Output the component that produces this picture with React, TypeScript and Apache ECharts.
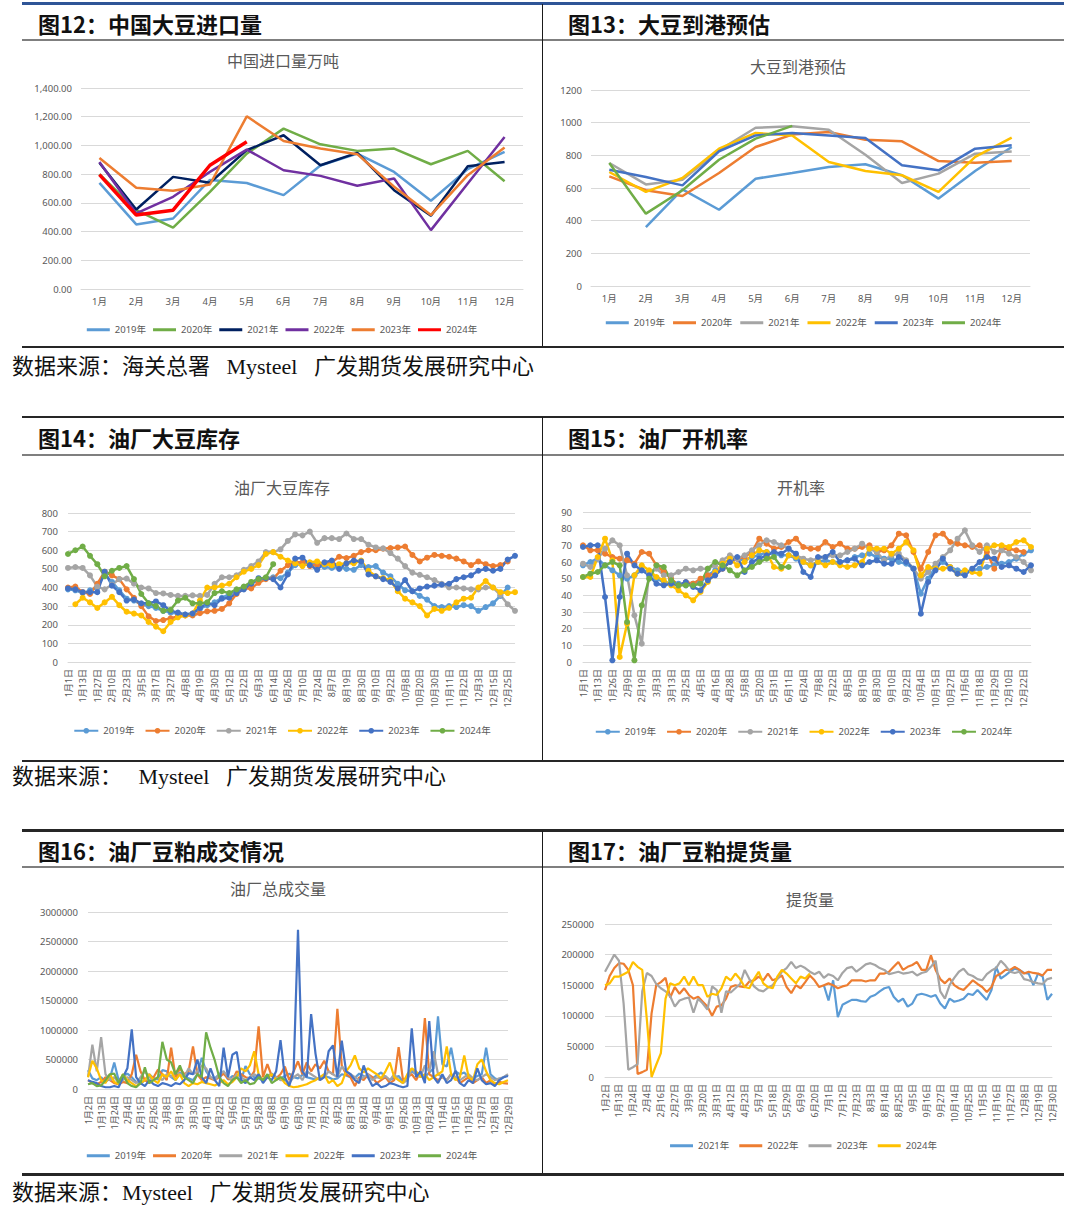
import React, { useEffect, useRef } from 'react';
import * as echarts from 'echarts';

// ---------------- 图12：中国大豆进口量 ----------------
const MONTHS = ['1月', '2月', '3月', '4月', '5月', '6月', '7月', '8月', '9月', '10月', '11月', '12月'];
const IMPORT_2019 = [739, 450, 491, 760, 738, 654, 860, 943, 815, 615, 835, 955];
const IMPORT_2020 = [800, 549, 427, 677, 943, 1117, 1008, 962, 978, 869, 962, 751];
const IMPORT_2021 = [880, 554, 781, 740, 967, 1071, 862, 948, 688, 510, 855, 885];
const IMPORT_2022 = [885, 526, 642, 816, 971, 827, 788, 719, 770, 410, 735, 1059];
const IMPORT_2023 = [913, 705, 684, 728, 1203, 1031, 978, 939, 712, 515, 793, 985];
const IMPORT_2024 = [797, 515, 549, 862, 1025];

// ---------------- 图13：大豆到港预估 ----------------
const ARRIVAL_2019 = [null, 361, 592, 467, 657, 692, 729, 745, 678, 535, 704, 851];
const ARRIVAL_2020 = [671, 586, 551, 692, 851, 927, 943, 896, 886, 765, 755, 765];
const ARRIVAL_2021 = [753, 622, 651, 831, 969, 978, 957, 804, 631, 688, 810, 824];
const ARRIVAL_2022 = [698, 576, 661, 841, 937, 922, 759, 704, 678, 576, 790, 908];
const ARRIVAL_2023 = [712, 667, 616, 825, 922, 937, 922, 906, 739, 708, 841, 861];
const ARRIVAL_2024 = [753, 443, 586, 773, 902, 980];

// ---------------- 图14：油厂大豆库存 ----------------
const STOCK_DATES = '1月1日,1月7日,1月13日,1月20日,1月27日,2月3日,2月10日,2月17日,2月23日,2月28日,3月5日,3月11日,3月17日,3月22日,3月27日,4月2日,4月8日,4月14日,4月19日,4月24日,4月30日,5月6日,5月12日,5月17日,5月22日,5月28日,6月3日,6月9日,6月14日,6月20日,6月26日,7月3日,7月10日,7月17日,7月24日,7月31日,8月7日,8月13日,8月19日,8月25日,8月30日,9月4日,9月10日,9月16日,9月22日,9月29日,10月8日,10月14日,10月20日,10月25日,10月30日,11月5日,11月11日,11月16日,11月22日,11月27日,12月3日,12月9日,12月15日,12月20日,12月25日,12月31日'.split(',');
const STOCK_2019 = [390, 385, 370, 385, 400, 470, 430, 385, 340, 330, 310, 300, 290, 275, 265, 260, 255, 260, 285, 305, 320, 345, 365, 380, 400, 420, 440, 450, 455, 450, 480, 520, 530, 530, 520, 510, 505, 510, 500, 495, 520, 510, 515, 480, 460, 420, 385, 380, 355, 335, 300, 295, 300, 295, 305, 300, 275, 295, 315, 355, 400, null];
const STOCK_2020 = [400, 405, 375, 365, 420, 485, 465, 445, 390, 345, 300, 245, 220, 225, 235, 245, 250, 250, 262, 272, 275, 285, 315, 365, 395, 395, 425, 445, 448, 490, 520, 535, 535, 515, 522, 528, 535, 565, 558, 570, 590, 600, 600, 608, 612, 615, 620, 575, 540, 560, 575, 570, 565, 555, 540, 520, 540, 525, 515, 520, 540, null];
const STOCK_2021 = [505, 510, 505, 465, 405, 390, 415, 445, 448, 420, 400, 395, 370, 368, 360, 355, 355, 358, 355, 360, 420, 455, 455, 465, 495, 515, 540, 590, 590, 605, 650, 685, 680, 700, 640, 665, 665, 660, 690, 660, 660, 630, 615, 610, 585, 555, 515, 480, 468, 455, 440, 420, 400, 400, 395, 390, 390, 400, 400, 360, 310, 275];
const STOCK_2022 = [null, 310, 345, 320, 290, 320, 350, 305, 270, 260, 250, 215, 190, 165, 215, 240, 250, 260, 330, 400, 400, 410, 420, 455, 485, 500, 520, 580, 590, 565, 545, 530, 515, 535, 540, 525, 520, 525, 530, 530, 545, 490, 460, 450, 440, 380, 340, 320, 300, 250, 285, 275, 290, 320, 340, 345, 400, 435, 400, 375, 370, 375];
const STOCK_2023 = [395, 390, 375, 375, 375, 485, 410, 375, 330, 335, 315, 315, 325, 305, 275, 265, 255, 260, 290, 315, 305, 340, 345, 370, 390, 420, 450, 450, 445, 400, 470, 555, 560, 520, 495, 535, 545, 500, 530, 545, 540, 470, 460, 445, 430, 395, 440, 380, 395, 405, 410, 415, 420, 445, 455, 465, 490, 500, 490, 500, 550, 570];
const STOCK_2024 = [580, 600, 620, 570, 525, 460, 490, 505, 515, 445, 365, 315, 300, 275, 280, 330, 345, 315, 315, 320, 370, 380, 370, 390, 405, 430, 445, 455, 525];

// ---------------- 图15：油厂开机率 ----------------
const RATE_DATES = '1月1日,1月7日,1月13日,1月20日,1月26日,2月2日,2月9日,2月14日,2月19日,2月26日,3月3日,3月8日,3月13日,3月19日,3月25日,3月30日,4月5日,4月10日,4月16日,4月22日,4月28日,5月3日,5月8日,5月14日,5月20日,5月26日,5月31日,6月5日,6月11日,6月17日,6月24日,7月1日,7月8日,7月15日,7月22日,7月29日,8月5日,8月12日,8月19日,8月25日,8月30日,9月4日,9月10日,9月16日,9月22日,9月28日,10月4日,10月9日,10月15日,10月21日,10月27日,11月1日,11月6日,11月12日,11月18日,11月23日,11月29日,12月4日,12月10日,12月16日,12月22日,12月28日'.split(',');
const RATE_2019 = [58, 60, 62, 58, 55, 52, 50, 52, 55, 54, 50, 48, 47, 47, 46, 47, 48, 52, 55, 57, 60, 62, 61, 63, 64, 66, 65, 64, 64, 62, 60, 58, 60, 61, 60, 60, 61, 63, 64, 65, 63, 62, 62, 60, 59, 56, 41, 50, 57, 60, 57, 55, 54, 55, 56, 57, 58, 59, 60, 62, 65, 67];
const RATE_2020 = [70, 67, 67, 65, 63, 62, 61, 59, 66, 65, 58, 54, 50, 46, 48, 47, 50, 52, 53, 56, 60, 62, 63, 66, 74, 71, 68, 69, 72, 74, 69, 68, 68, 72, 69, 71, 68, 68, 69, 70, 66, 67, 70, 77, 76, 66, 56, 66, 76, 77, 72, 71, 70, 69, 70, 66, 56, 68, 68, 67, 66, null];
const RATE_2021 = [59, 57, 62, 68, 73, 70, 52, 28, 11, 54, 56, 52, 52, 54, 56, 55, 56, 56, 58, 61, 64, 62, 64, 67, 70, 73, 72, 70, 68, 64, 62, 61, 62, 63, 64, 64, 66, 68, 71, 68, 66, 61, 64, 65, 61, 56, 50, 54, 59, 63, 67, 74, 79, 70, 66, 70, 66, 67, 65, 63, 60, 55];
const RATE_2022 = [51, 51, 63, 74, 61, 3, 23, 52, 58, 55, 51, 49, 46, 43, 40, 37, 42, 48, 54, 59, 62, 58, 60, 64, 67, 66, 57, 56, 64, 63, 60, 58, 60, 58, 60, 58, 57, 58, 60, 68, 68, 68, 65, 68, 72, 67, 52, 57, 56, 56, 57, 53, 55, 54, 53, 68, 70, 70, 69, 72, 73, 69];
const RATE_2023 = [69, 70, 70, 39, 1, 39, 65, 58, 55, 52, 47, 46, 47, 46, 48, 45, 43, 49, 52, 56, 60, 63, 54, 60, 62, 64, 66, 65, 68, 65, 54, 51, 63, 63, 66, 60, 61, 62, 58, 60, 61, 59, 59, 63, 60, 56, 29, 48, 55, 62, 56, 53, 52, 56, 60, 63, 62, 57, 58, 56, 54, 58];
const RATE_2024 = [51, 53, 54, 58, 60, 58, 24, 1, 34, 50, 58, 57, 49, 46, 46, 46, 47, 56, 60, 58, 55, 52, 55, 57, 60, 62, 63, 57, 57];

// ---------------- 图16：油厂豆粕成交情况 ----------------
const DEAL_DATES = '1月2日,1月5日,1月9日,1月13日,1月16日,1月20日,1月24日,1月28日,2月1日,2月4日,2月8日,2月11日,2月15日,2月19日,2月22日,2月26日,3月1日,3月5日,3月8日,3月12日,3月15日,3月19日,3月23日,3月26日,3月30日,4月3日,4月7日,4月11日,4月15日,4月18日,4月22日,4月26日,4月30日,5月6日,5月10日,5月13日,5月17日,5月21日,5月24日,5月28日,6月1日,6月4日,6月8日,6月12日,6月15日,6月19日,6月23日,6月26日,6月30日,7月4日,7月7日,7月11日,7月15日,7月18日,7月22日,7月26日,7月29日,8月2日,8月6日,8月9日,8月13日,8月17日,8月20日,8月24日,8月28日,8月31日,9月4日,9月8日,9月11日,9月15日,9月19日,9月22日,9月26日,9月29日,10月9日,10月13日,10月17日,10月20日,10月24日,10月28日,10月31日,11月4日,11月8日,11月11日,11月15日,11月19日,11月22日,11月26日,11月30日,12月3日,12月7日,12月11日,12月14日,12月18日,12月22日,12月25日,12月29日'.split(',');
const DEAL_2019 = [
  320000, 180000, 150000, 200000, 120000, 180000, 450000, 150000, 220000,
  260000, 200000, 120000, 90000, 150000, 250000, 180000, 160000, 320000,
  300000, 200000, 150000, 280000, 220000, 180000, 150000, 250000, 530000,
  300000, 200000, 180000, 250000, 300000, 160000, 220000, 200000, 150000,
  390000, 250000, 200000, 180000, 150000, 220000, 260000, 200000, 180000,
  220000, 260000, 200000, 180000, 240000, 200000, 180000, 160000, 190000,
  220000, 200000, 160000, 180000, 250000, 230000, 200000, 190000, 260000,
  220000, 200000, 180000, 230000, 280000, 200000, 150000, 190000, 220000,
  120000, 200000, 300000, 250000, 220000, 200000, 280000, 350000, 1230000,
  420000, 380000, 700000, 300000, 250000, 280000, 200000, 180000, 220000,
  250000, 700000, 250000, 180000, 150000, 200000, 240000];
const DEAL_2020 = [
  150000, 100000, 80000, 120000, 200000, 150000, 100000, 80000, 120000,
  100000, 250000, 580000, 300000, 150000, 100000, 200000, 330000, 250000,
  150000, 700000, 200000, 350000, 250000, 300000, 720000, 250000, 150000,
  200000, 180000, 150000, 200000, 260000, 180000, 150000, 300000, 250000,
  200000, 180000, 300000, 1060000, 200000, 420000, 220000, 180000, 250000,
  380000, 150000, 300000, 470000, 250000, 450000, 300000, 420000, 350000,
  480000, 300000, 250000, 1360000, 400000, 250000, 200000, 50000, 200000,
  150000, 250000, 200000, 100000, 150000, 200000, 100000, 150000, 710000,
  150000, 200000, 250000, 150000, 300000, 1200000, 250000, 200000, 150000,
  200000, 150000, 250000, 200000, 100000, 150000, 200000, 100000, 150000,
  200000, 100000, 150000, 80000, 120000, 100000, 90000];
const DEAL_2021 = [
  200000, 750000, 300000, 880000, 250000, 150000, 200000, 100000, 150000,
  200000, 150000, 100000, 200000, 300000, 200000, 150000, 200000, 150000,
  250000, 200000, 300000, 250000, 200000, 350000, 250000, 300000, 400000,
  350000, 200000, 150000, 250000, 300000, 200000, 150000, 250000, 200000,
  150000, 200000, 250000, 200000, 150000, 200000, 250000, 200000, 150000,
  150000, 100000, 200000, 250000, 150000, 300000, 250000, 200000, 150000,
  200000, 300000, 250000, 200000, 380000, 300000, 250000, 200000, 150000,
  200000, 250000, 150000, 200000, 180000, 220000, 150000, 250000, 150000,
  100000, 150000, 350000, 250000, 200000, 400000, 300000, 640000, 250000,
  200000, 150000, 250000, 200000, 150000, 200000, 250000, 180000, 150000,
  200000, 250000, 200000, 150000, 180000, 200000, 250000];
const DEAL_2022 = [
  200000, 480000, 350000, 150000, 100000, 250000, 120000, 80000, 250000,
  150000, 100000, 50000, 100000, 150000, 250000, 150000, 100000, 250000,
  200000, 300000, 150000, 250000, 100000, 50000, 100000, 80000, 120000,
  100000, 80000, 60000, 100000, 150000, 80000, 120000, 200000, 350000,
  300000, 400000, 640000, 250000, 150000, 200000, 250000, 150000, 200000,
  100000, 50000, 30000, 40000, 60000, 80000, 120000, 150000, 200000,
  250000, 100000, 150000, 50000, 100000, 300000, 400000, 570000, 350000,
  280000, 350000, 300000, 250000, 180000, 300000, 450000, 200000, 150000,
  100000, 250000, 350000, 300000, 200000, 250000, 150000, 200000, 250000,
  300000, 720000, 250000, 150000, 200000, 570000, 200000, 150000, 420000,
  500000, 300000, 150000, 100000, 80000, 120000, 150000];
const DEAL_2023 = [
  150000, 120000, 100000, 50000, 30000, 30000, 50000, 30000, 200000,
  350000, 1010000, 200000, 100000, 50000, 150000, 80000, 50000, 100000,
  80000, 50000, 100000, 80000, 150000, 270000, 250000, 500000, 200000,
  100000, 350000, 150000, 50000, 700000, 200000, 580000, 630000, 150000,
  100000, 200000, 150000, 250000, 100000, 200000, 150000, 300000, 830000,
  200000, 50000, 300000, 2700000, 300000, 200000, 1270000, 600000, 150000,
  200000, 640000, 740000, 200000, 820000, 300000, 250000, 150000, 100000,
  400000, 200000, 50000, 100000, 30000, 50000, 100000, 80000, 50000,
  30000, 50000, 1030000, 200000, 300000, 100000, 1150000, 200000, 100000,
  250000, 100000, 150000, 310000, 100000, 50000, 150000, 100000, 350000,
  150000, 80000, 100000, 50000, 150000, 200000, 220000];
const DEAL_2024 = [
  80000, 100000, 50000, 60000, 150000, 250000, 260000, 100000, 250000,
  100000, 50000, 30000, 100000, 370000, 100000, 150000, 200000, 800000,
  500000, 450000, 250000, 400000, 200000, 150000, 100000, 250000, 200000,
  960000, 700000, 480000, 200000, 100000, 50000, 150000, 200000, 100000,
  150000, 80000, 100000, 200000, 150000, 250000, 100000, 150000, 200000,
  150000];

// ---------------- 图17：油厂豆粕提货量 ----------------
const LIFT_DATES = '1月2日,1月6日,1月9日,1月13日,1月17日,1月20日,1月24日,1月28日,1月31日,2月4日,2月8日,2月12日,2月16日,2月20日,2月23日,2月27日,3月2日,3月6日,3月9日,3月13日,3月16日,3月20日,3月24日,3月27日,3月31日,4月4日,4月8日,4月12日,4月16日,4月19日,4月23日,4月27日,5月1日,5月7日,5月11日,5月14日,5月18日,5月22日,5月25日,5月29日,6月2日,6月5日,6月9日,6月13日,6月16日,6月20日,6月24日,6月27日,7月1日,7月5日,7月8日,7月12日,7月16日,7月19日,7月23日,7月27日,7月30日,8月3日,8月7日,8月10日,8月14日,8月18日,8月21日,8月25日,8月29日,9月1日,9月5日,9月9日,9月12日,9月16日,9月20日,9月23日,9月27日,10月1日,10月10日,10月14日,10月18日,10月21日,10月25日,10月29日,11月1日,11月5日,11月9日,11月12日,11月16日,11月20日,11月23日,11月27日,12月1日,12月4日,12月8日,12月12日,12月15日,12月19日,12月23日,12月26日,12月30日'.split(',');
const LIFT_2021 = [
  null, null, null, null, null, null, null, null, null, null,
  null, null, null, null, null, null, null, null, null, null,
  null, null, null, null, null, null, null, null, null, null,
  null, null, null, null, null, null, null, null, null, null,
  null, null, null, null, null, null, null,
  150000, 125000, 158000, 98000, 118000, 122000, 126000, 126000, 124000, 123000,
  131000, 134000, 140000, 145000, 147000, 131000, 123000, 128000, 115000, 120000,
  134000, 136000, 134000, 131000, 134000, 120000, 112000, 128000, 123000, 125000,
  128000, 136000, 134000, 142000, 134000, 126000, 142000, 180000, 161000, 166000,
  172000, 177000, 175000, 170000, 169000, 150000, 169000, 164000, 126000, 136000];
const LIFT_2022 = [
  142000, 165000, 178000, 186000, 185000, 175000, 150000, 5000, 8000, 12000,
  104000, 150000, 155000, 162000, 130000, 147000, 136000, 145000, 134000, 128000,
  131000, 123000, 115000, 100000, 115000, 117000, 128000, 147000, 150000, 148000,
  147000, 156000, 158000, 164000, 158000, 169000, 158000, 161000, 166000, 147000,
  137000, 150000, 145000, 155000, 166000, 158000, 147000, 150000, 153000, 150000,
  145000, 148000, 150000, 158000, 158000, 158000, 156000, 158000, 158000, 169000,
  169000, 172000, 180000, 188000, 175000, 180000, 183000, 188000, 175000, 175000,
  199000, 175000, 160000, 153000, 161000, 150000, 145000, 142000, 150000, 158000,
  152000, 147000, 139000, 147000, 165000, 169000, 175000, 175000, 180000, 175000,
  169000, 172000, 170000, 169000, 166000, 175000, 175000];
const LIFT_2023 = [
  172000, 186000, 200000, 190000, 120000, 12000, 16000, 21000, 140000, 170000,
  165000, 152000, 145000, 140000, 132000, 115000, 125000, 128000, 130000, 105000,
  128000, 120000, 110000, 148000, 142000, 105000, 140000, 138000, 145000, 152000,
  175000, 160000, 148000, 142000, 140000, 146000, 150000, 160000, 172000, 178000,
  188000, 178000, 182000, 178000, 172000, 168000, 172000, 162000, 168000, 165000,
  158000, 170000, 178000, 180000, 172000, 178000, 184000, 186000, 183000, 178000,
  175000, 168000, 170000, 172000, 169000, 170000, 172000, 166000, 170000, 172000,
  180000, 190000, 140000, 128000, 150000, 162000, 172000, 177000, 168000, 165000,
  160000, 158000, 168000, 174000, 178000, 190000, 182000, 172000, 170000, 172000,
  160000, 158000, 155000, 153000, 152000, 160000, 162000];
const LIFT_2024 = [
  150000, 153000, 164000, 164000, 168000, 172000, 188000, 180000, 175000, 93000,
  0, 20000, 39000, 128000, 153000, 150000, 153000, 164000, 150000, 164000,
  150000, 150000, 131000, 136000, 134000, 145000, 164000, 158000, 169000, 160000,
  147000, 145000, 160000, 172000, 153000, 147000, 145000, 164000, 175000, 169000,
  161000, 153000, 164000, 161000, 169000];

const Y19 = '2019年', Y20 = '2020年', Y21 = '2021年', Y22 = '2022年', Y23 = '2023年', Y24 = '2024年';

const GRAY_TEXT = '#595959';
const AXIS_FONT = "'Noto Sans','Noto Sans CJK SC',sans-serif";
const CJK_FONT = "'Noto Sans CJK SC',sans-serif";

type S = { name: string; data: (number | null)[]; color: string; width: number };

function buildOption(p: any) {
  const markers = !!p.markers;
  return {
    animation: false,
    title: {
      text: p.title, left: p.titleX, top: p.titleTop, textAlign: 'center', padding: 0,
      textStyle: { fontSize: 16, fontWeight: 'normal', color: GRAY_TEXT, fontFamily: CJK_FONT },
    },
    grid: { left: p.grid[0], top: p.grid[1], width: p.grid[2], height: p.grid[3], containLabel: false },
    legend: {
      left: 'center', top: p.legendTop, itemGap: p.legendGap,
      itemWidth: markers ? 24 : 23, itemHeight: markers ? 7 : 3,
      icon: markers ? undefined : 'rect',
      textStyle: { fontSize: 9.5, color: GRAY_TEXT, fontFamily: AXIS_FONT },
      data: p.series.map((s: S) => s.name),
    },
    xAxis: {
      type: 'category', data: p.categories, boundaryGap: p.boundaryGap,
      axisLine: { show: true, lineStyle: { color: '#D9D9D9', width: 1 } },
      axisTick: { show: false },
      axisLabel: {
        interval: p.labelInterval, rotate: p.rotate, margin: p.xMargin,
        fontSize: p.rotate ? 9 : 9.5, color: GRAY_TEXT, fontFamily: AXIS_FONT,
      },
    },
    yAxis: {
      type: 'value', min: p.y[0], max: p.y[1], interval: p.y[2],
      axisLine: { show: false }, axisTick: { show: false },
      splitLine: { lineStyle: { color: '#D9D9D9', width: 1 } },
      axisLabel: { margin: p.yMargin, fontSize: 9.5, color: GRAY_TEXT, fontFamily: AXIS_FONT, formatter: p.yFormatter },
    },
    series: p.series.map((s: S) => ({
      type: 'line', name: s.name, data: s.data,
      symbol: markers ? 'circle' : 'none', symbolSize: 6, showSymbol: markers, showAllSymbol: true,
      lineStyle: { color: s.color, width: s.width },
      itemStyle: { color: s.color },
      emphasis: { disabled: true },
    })),
  };
}

const plain = (v: number) => String(v);

const OPT_IMPORT = buildOption({
  title: '中国进口量万吨', titleX: 261, titleTop: 12,
  grid: [59, 48, 442, 201], categories: MONTHS, boundaryGap: true, rotate: 0, labelInterval: 0, xMargin: 8,
  y: [0, 1400, 200], yMargin: 9,
  yFormatter: (v: number) => v.toLocaleString('en-US', { minimumFractionDigits: 2, maximumFractionDigits: 2 }),
  legendTop: 280, legendGap: 7,
  series: [
    { name: Y19, data: IMPORT_2019, color: '#5B9BD5', width: 2.5 },
    { name: Y20, data: IMPORT_2020, color: '#70AD47', width: 2.5 },
    { name: Y21, data: IMPORT_2021, color: '#002060', width: 2.5 },
    { name: Y22, data: IMPORT_2022, color: '#7030A0', width: 2.5 },
    { name: Y23, data: IMPORT_2023, color: '#ED7D31', width: 2.5 },
    { name: Y24, data: IMPORT_2024, color: '#FF0000', width: 3.5 },
  ],
});

const OPT_ARRIVAL = buildOption({
  title: '大豆到港预估', titleX: 255, titleTop: 18,
  grid: [48, 50, 439, 196], categories: MONTHS, boundaryGap: true, rotate: 0, labelInterval: 0, xMargin: 8,
  y: [0, 1200, 200], yMargin: 9, yFormatter: plain,
  legendTop: 273, legendGap: 8,
  series: [
    { name: Y19, data: ARRIVAL_2019, color: '#5B9BD5', width: 2.5 },
    { name: Y20, data: ARRIVAL_2020, color: '#ED7D31', width: 2.5 },
    { name: Y21, data: ARRIVAL_2021, color: '#A5A5A5', width: 2.5 },
    { name: Y22, data: ARRIVAL_2022, color: '#FFC000', width: 2.5 },
    { name: Y23, data: ARRIVAL_2023, color: '#4472C4', width: 2.5 },
    { name: Y24, data: ARRIVAL_2024, color: '#70AD47', width: 2.5 },
  ],
});

const OPT_STOCK = buildOption({
  title: '油厂大豆库存', titleX: 260, titleTop: 24, markers: true,
  grid: [46, 58, 447, 149], categories: STOCK_DATES, boundaryGap: false, rotate: 90, labelInterval: 1, xMargin: 7,
  y: [0, 800, 100], yMargin: 10, yFormatter: plain,
  legendTop: 266, legendGap: 10,
  series: [
    { name: Y19, data: STOCK_2019, color: '#5B9BD5', width: 2.5 },
    { name: Y20, data: STOCK_2020, color: '#ED7D31', width: 2.5 },
    { name: Y21, data: STOCK_2021, color: '#A5A5A5', width: 2.5 },
    { name: Y22, data: STOCK_2022, color: '#FFC000', width: 2.5 },
    { name: Y23, data: STOCK_2023, color: '#4472C4', width: 2.5 },
    { name: Y24, data: STOCK_2024, color: '#70AD47', width: 2.5 },
  ],
});

const OPT_RATE = buildOption({
  title: '开机率', titleX: 258, titleTop: 24, markers: true,
  grid: [40, 57, 448, 150], categories: RATE_DATES, boundaryGap: false, rotate: 90, labelInterval: 1, xMargin: 7,
  y: [0, 90, 10], yMargin: 11, yFormatter: plain,
  legendTop: 267, legendGap: 10,
  series: [
    { name: Y19, data: RATE_2019, color: '#5B9BD5', width: 2.5 },
    { name: Y20, data: RATE_2020, color: '#ED7D31', width: 2.5 },
    { name: Y21, data: RATE_2021, color: '#A5A5A5', width: 2.5 },
    { name: Y22, data: RATE_2022, color: '#FFC000', width: 2.5 },
    { name: Y23, data: RATE_2023, color: '#4472C4', width: 2.5 },
    { name: Y24, data: RATE_2024, color: '#70AD47', width: 2.5 },
  ],
});

const OPT_DEAL = buildOption({
  title: '油厂总成交量', titleX: 256, titleTop: 12,
  grid: [66, 44, 420, 177], categories: DEAL_DATES, boundaryGap: false, rotate: 90, labelInterval: 2, xMargin: 7,
  y: [0, 3000000, 500000], yMargin: 10, yFormatter: plain,
  legendTop: 278, legendGap: 7,
  series: [
    { name: Y19, data: DEAL_2019, color: '#5B9BD5', width: 2.2 },
    { name: Y20, data: DEAL_2020, color: '#ED7D31', width: 2.2 },
    { name: Y21, data: DEAL_2021, color: '#A5A5A5', width: 2.2 },
    { name: Y22, data: DEAL_2022, color: '#FFC000', width: 2.2 },
    { name: Y23, data: DEAL_2023, color: '#4472C4', width: 2.2 },
    { name: Y24, data: DEAL_2024, color: '#70AD47', width: 2.2 },
  ],
});

const OPT_LIFT = buildOption({
  title: '提货量', titleX: 267, titleTop: 23,
  grid: [62, 56, 447, 153], categories: LIFT_DATES, boundaryGap: false, rotate: 90, labelInterval: 2, xMargin: 7,
  y: [0, 250000, 50000], yMargin: 11, yFormatter: plain,
  legendTop: 268, legendGap: 10,
  series: [
    { name: Y21, data: LIFT_2021, color: '#5B9BD5', width: 2.2 },
    { name: Y22, data: LIFT_2022, color: '#ED7D31', width: 2.2 },
    { name: Y23, data: LIFT_2023, color: '#A5A5A5', width: 2.2 },
    { name: Y24, data: LIFT_2024, color: '#FFC000', width: 2.2 },
  ],
});

function Chart({ option, left, top, width, height }: any) {
  const ref = useRef<HTMLDivElement>(null);
  useEffect(() => {
    const chart = echarts.init(ref.current as HTMLDivElement, null, { renderer: 'svg' });
    chart.setOption(option);
    return () => chart.dispose();
  }, [option]);
  return <div ref={ref} style={{ position: 'absolute', left, top, width, height }} />;
}

function HLine({ top, height, color, left = 22, width = 1042 }: any) {
  return <div style={{ position: 'absolute', left, top, width, height, background: color }} />;
}
function VLine({ top, height }: any) {
  return <div style={{ position: 'absolute', left: 542, top, width: 1, height, background: '#1a1a1a' }} />;
}
function Header({ left, cy, text }: any) {
  return (
    <div style={{ position: 'absolute', left, top: cy - 14, height: 28, lineHeight: '28px', fontSize: 22, fontWeight: 700, fontFamily: CJK_FONT, color: '#111', whiteSpace: 'nowrap' }}>{text}</div>
  );
}
function Source({ cy, text }: any) {
  return (
    <div style={{ position: 'absolute', left: 12, top: cy - 14, height: 28, lineHeight: '28px', fontSize: 22, fontFamily: "'Liberation Serif','Noto Sans CJK SC',serif", color: '#111', whiteSpace: 'pre', wordSpacing: 11 }}>{text}</div>
  );
}

export default function App() {
  return (
    <div style={{ position: 'absolute', left: 0, top: 0, width: 1080, height: 1213, background: '#ffffff', overflow: 'hidden' }}>
      {/* section 1 */}
      <HLine top={1.5} height={3} color="#2F5597" />
      <Header left={38} cy={23} text="图12：中国大豆进口量" />
      <Header left={568} cy={23} text="图13：大豆到港预估" />
      <HLine top={38.5} height={2} color="#7F7F7F" />
      <VLine top={4} height={343} />
      <HLine top={345.5} height={2.5} color="#262626" />
      <Source cy={367} text="数据来源：海关总署 Mysteel 广发期货发展研究中心" />

      {/* section 2 */}
      <HLine top={415.5} height={2.5} color="#262626" />
      <Header left={38} cy={437} text="图14：油厂大豆库存" />
      <Header left={568} cy={437} text="图15：油厂开机率" />
      <HLine top={454} height={2} color="#7F7F7F" />
      <VLine top={417} height={343} />
      <HLine top={759.5} height={2.5} color="#262626" />
      <Source cy={777} text="数据来源： Mysteel 广发期货发展研究中心" />

      {/* section 3 */}
      <HLine top={829} height={2.5} color="#262626" />
      <Header left={38} cy={850} text="图16：油厂豆粕成交情况" />
      <Header left={568} cy={850} text="图17：油厂豆粕提货量" />
      <HLine top={866} height={2} color="#7F7F7F" />
      <VLine top={831} height={343} />
      <HLine top={1173} height={2.5} color="#262626" />
      <Source cy={1193} text="数据来源：Mysteel 广发期货发展研究中心" />

      <Chart option={OPT_IMPORT} left={22} top={40} width={520} height={305} />
      <Chart option={OPT_ARRIVAL} left={543} top={40} width={521} height={305} />
      <Chart option={OPT_STOCK} left={22} top={455} width={520} height={304} />
      <Chart option={OPT_RATE} left={543} top={455} width={521} height={304} />
      <Chart option={OPT_DEAL} left={22} top={868} width={520} height={305} />
      <Chart option={OPT_LIFT} left={543} top={868} width={521} height={305} />
    </div>
  );
}
